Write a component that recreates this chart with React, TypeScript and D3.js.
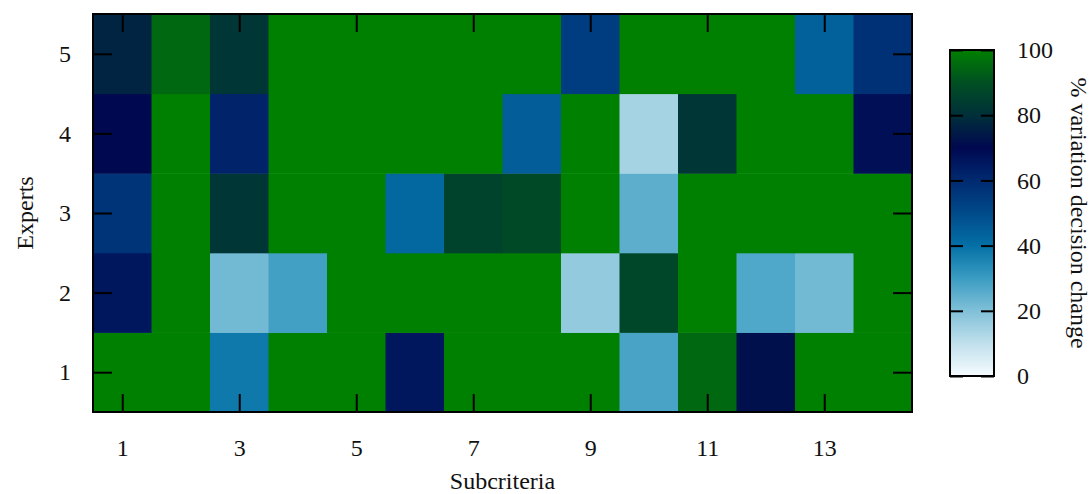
import { useEffect, useRef } from "react";
import * as d3 from "d3";

// subcriteria 1..14 (columns), experts 1..5 (rows)
const subcriteria = d3.range(1, 15);
const experts = [1, 2, 3, 4, 5];

// % variation decision change, one array per expert
const expert1 = [100, 100, 38, 100, 100, 66, 100, 100, 100, 28, 95, 72, 100, 100];
const expert2 = [66, 100, 22, 29, 100, 100, 100, 100, 17, 87, 100, 27, 22, 100];
const expert3 = [57, 100, 82, 100, 100, 42, 86, 88, 100, 25, 100, 100, 100, 100];
const expert4 = [70, 100, 62, 100, 100, 100, 100, 45, 100, 14, 82, 100, 100, 68];
const expert5 = [77, 95, 82, 100, 100, 100, 100, 100, 54, 100, 100, 100, 44, 58];

const xTicks = [1, 3, 5, 7, 9, 11, 13];
const colorTicks = [0, 20, 40, 60, 80, 100];

// palette stops (value -> colour)
const paletteStops = [0, 10, 20, 30, 40, 50, 60, 70, 80, 90, 100];
const paletteColors = [
  "#f5fbff", "#c0e0ec", "#80c0d8", "#3a9cc2", "#0470a6",
  "#004a8a", "#002a70", "#000850", "#00303a", "#004f22", "#008000",
];

const W = 1091;
const H = 494;
const FONT = "'Liberation Serif', 'Times New Roman', serif";
const FS = 24;

export default function App() {
  const ref = useRef<SVGSVGElement>(null);

  useEffect(() => {
    const svg = d3.select(ref.current);
    svg.selectAll("*").remove();

    const left = 93, right = 912, top = 14, bottom = 412;

    const rows = [expert1, expert2, expert3, expert4, expert5];
    const cells = rows.flatMap((vals, i) =>
      vals.map((v, j) => ({ expert: experts[i], sub: subcriteria[j], value: v }))
    );

    const x = d3.scaleLinear().domain([0.5, 14.5]).range([left, right]);
    const y = d3.scaleLinear().domain([0.5, 5.5]).range([bottom, top]);
    const color = d3
      .scaleLinear<string>()
      .domain(paletteStops)
      .range(paletteColors)
      .interpolate(d3.interpolateRgb);

    // cells
    svg.append("g")
      .selectAll("rect")
      .data(cells)
      .enter()
      .append("rect")
      .attr("x", (d) => x(d.sub - 0.5))
      .attr("y", (d) => y(d.expert + 0.5))
      .attr("width", x(1.5) - x(0.5) + 0.5)
      .attr("height", y(0.5) - y(1.5) + 0.5)
      .attr("fill", (d) => color(d.value));

    const styleAxis = (g: any) => {
      g.select(".domain").remove();
      g.selectAll("line").attr("stroke", "#000").attr("stroke-width", 2);
      g.attr("font-family", FONT).attr("font-size", FS);
      g.selectAll("text").attr("fill", "#111");
    };

    // x axis (bottom labels, ticks inside, mirrored on top)
    svg.append("g")
      .attr("transform", `translate(0,${bottom})`)
      .call(d3.axisBottom(x).tickValues(xTicks).tickSizeInner(-18).tickSizeOuter(0).tickPadding(27).tickFormat(d3.format("d")))
      .call(styleAxis);
    svg.append("g")
      .attr("transform", `translate(0,${top})`)
      .call(d3.axisTop(x).tickValues(xTicks).tickSizeInner(-18).tickSizeOuter(0).tickFormat(() => ""))
      .call(styleAxis);

    // y axis
    svg.append("g")
      .attr("transform", `translate(${left},0)`)
      .call(d3.axisLeft(y).tickValues(experts).tickSizeInner(-19).tickSizeOuter(0).tickPadding(22).tickFormat(d3.format("d")))
      .call(styleAxis);
    svg.append("g")
      .attr("transform", `translate(${right},0)`)
      .call(d3.axisRight(y).tickValues(experts).tickSizeInner(-19).tickSizeOuter(0).tickFormat(() => ""))
      .call(styleAxis);

    // frame
    svg.append("rect")
      .attr("x", left).attr("y", top)
      .attr("width", right - left).attr("height", bottom - top)
      .attr("fill", "none").attr("stroke", "#000").attr("stroke-width", 2);

    // axis titles
    svg.append("text")
      .attr("x", (left + right) / 2)
      .attr("y", 489)
      .attr("text-anchor", "middle")
      .attr("font-family", FONT).attr("font-size", FS).attr("fill", "#111")
      .text("Subcriteria");
    svg.append("text")
      .attr("transform", `translate(33,${(top + bottom) / 2}) rotate(-90)`)
      .attr("text-anchor", "middle")
      .attr("font-family", FONT).attr("font-size", FS).attr("fill", "#111")
      .text("Experts");

    // colour bar
    const cbLeft = 950, cbRight = 994, cbTop = 50, cbBottom = 376;
    const cy = d3.scaleLinear().domain([0, 100]).range([cbBottom, cbTop]);

    const grad = svg.append("defs")
      .append("linearGradient")
      .attr("id", "cbgrad")
      .attr("x1", 0).attr("y1", 1).attr("x2", 0).attr("y2", 0);
    grad.selectAll("stop")
      .data(d3.range(0, 101, 2))
      .enter()
      .append("stop")
      .attr("offset", (d) => `${d}%`)
      .attr("stop-color", (d) => color(d));

    svg.append("rect")
      .attr("x", cbLeft).attr("y", cbTop)
      .attr("width", cbRight - cbLeft).attr("height", cbBottom - cbTop)
      .attr("fill", "url(#cbgrad)");

    svg.append("g")
      .attr("transform", `translate(${cbRight},0)`)
      .call(d3.axisRight(cy).tickValues(colorTicks).tickSizeInner(-13).tickSizeOuter(0).tickPadding(23).tickFormat(d3.format("d")))
      .call(styleAxis);
    svg.append("g")
      .attr("transform", `translate(${cbLeft},0)`)
      .call(d3.axisLeft(cy).tickValues(colorTicks).tickSizeInner(-13).tickSizeOuter(0).tickFormat(() => ""))
      .call(styleAxis);

    svg.append("rect")
      .attr("x", cbLeft).attr("y", cbTop)
      .attr("width", cbRight - cbLeft).attr("height", cbBottom - cbTop)
      .attr("fill", "none").attr("stroke", "#000").attr("stroke-width", 2);

    svg.append("text")
      .attr("transform", `translate(1071,${(cbTop + cbBottom) / 2}) rotate(90)`)
      .attr("text-anchor", "middle")
      .attr("font-family", FONT).attr("font-size", FS).attr("fill", "#111")
      .text("% variation decision change");
  }, []);

  return (
    <svg
      ref={ref}
      width={W}
      height={H}
      style={{ position: "absolute", left: 0, top: 0, background: "#fff" }}
    />
  );
}
